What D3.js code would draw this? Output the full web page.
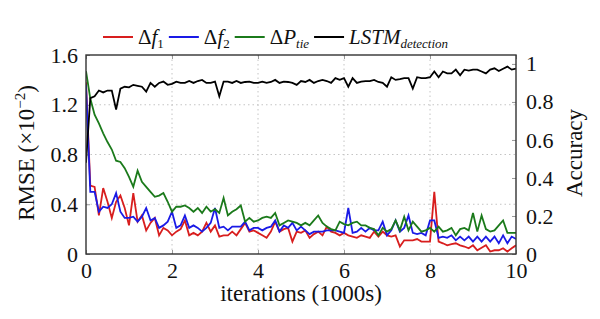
<!DOCTYPE html>
<html>
<head>
<meta charset="utf-8">
<script src="https://cdn.jsdelivr.net/npm/d3@7"></script>
<style>
  body { margin: 0; background: #fff; }
</style>
</head>
<body>
<svg id="chart" width="600" height="319"></svg>
<script>
// iterations in thousands, sampled every 100
const iterations = d3.range(0, 101).map(i => i / 10);

const rmseF1 = [1.38, 0.55, 0.54, 0.31, 0.53, 0.42, 0.29, 0.42, 0.47, 0.37,
  0.23, 0.49, 0.26, 0.31, 0.19, 0.25, 0.29, 0.15, 0.21, 0.19,
  0.15, 0.18, 0.20, 0.27, 0.15, 0.17, 0.15, 0.18, 0.25, 0.18,
  0.23, 0.14, 0.15, 0.15, 0.18, 0.15, 0.20, 0.25, 0.18, 0.19,
  0.17, 0.15, 0.13, 0.18, 0.26, 0.18, 0.20, 0.21, 0.10, 0.18,
  0.17, 0.19, 0.13, 0.16, 0.18, 0.15, 0.22, 0.18, 0.17, 0.15,
  0.17, 0.15, 0.14, 0.13, 0.15, 0.14, 0.13, 0.18, 0.14, 0.18,
  0.15, 0.14, 0.15, 0.06, 0.11, 0.11, 0.11, 0.12, 0.10, 0.10,
  0.10, 0.50, 0.10, 0.086, 0.07, 0.08, 0.086, 0.07, 0.06, 0.046,
  0.07, 0.03, 0.05, 0.07, 0.02, 0.03, 0.03, 0.046, 0.02, 0.046,
  0.07];

const rmseF2 = [1.36, 0.50, 0.50, 0.34, 0.38, 0.37, 0.40, 0.49, 0.34, 0.29,
  0.29, 0.30, 0.26, 0.30, 0.37, 0.27, 0.29, 0.21, 0.23, 0.26,
  0.34, 0.21, 0.23, 0.31, 0.21, 0.23, 0.21, 0.18, 0.21, 0.25,
  0.37, 0.21, 0.22, 0.19, 0.22, 0.22, 0.22, 0.26, 0.19, 0.21,
  0.21, 0.19, 0.21, 0.22, 0.27, 0.18, 0.23, 0.21, 0.25, 0.19,
  0.22, 0.19, 0.16, 0.18, 0.18, 0.18, 0.19, 0.19, 0.19, 0.18,
  0.17, 0.37, 0.17, 0.18, 0.21, 0.18, 0.21, 0.19, 0.19, 0.26,
  0.15, 0.19, 0.27, 0.18, 0.21, 0.31, 0.17, 0.16, 0.17, 0.15,
  0.27, 0.27, 0.13, 0.14, 0.13, 0.15, 0.11, 0.14, 0.11, 0.14,
  0.10, 0.14, 0.10, 0.14, 0.10, 0.14, 0.086, 0.15, 0.086, 0.14,
  0.12];

const rmsePtie = [1.47, 1.25, 1.12, 1.05, 0.97, 0.90, 0.84, 0.75, 0.74, 0.69,
  0.62, 0.54, 0.67, 0.58, 0.54, 0.50, 0.46, 0.47, 0.49, 0.42,
  0.34, 0.38, 0.38, 0.39, 0.37, 0.34, 0.37, 0.33, 0.38, 0.34,
  0.36, 0.33, 0.45, 0.31, 0.34, 0.36, 0.39, 0.26, 0.29, 0.26,
  0.27, 0.29, 0.30, 0.29, 0.33, 0.23, 0.25, 0.27, 0.26, 0.25,
  0.23, 0.25, 0.23, 0.27, 0.31, 0.25, 0.22, 0.20, 0.19, 0.26,
  0.24, 0.23, 0.25, 0.26, 0.23, 0.23, 0.21, 0.20, 0.15, 0.21,
  0.18, 0.20, 0.27, 0.19, 0.30, 0.19, 0.26, 0.22, 0.18, 0.19,
  0.21, 0.18, 0.22, 0.18, 0.19, 0.21, 0.15, 0.20, 0.21, 0.19,
  0.33, 0.18, 0.31, 0.20, 0.18, 0.19, 0.23, 0.27, 0.17, 0.17,
  0.17];

const accuracy = [0.48, 0.82, 0.83, 0.86, 0.85, 0.86, 0.86, 0.76, 0.87, 0.88,
  0.877, 0.89, 0.885, 0.88, 0.854, 0.90, 0.88, 0.90, 0.907, 0.89,
  0.895, 0.907, 0.90, 0.90, 0.91, 0.90, 0.91, 0.916, 0.90, 0.90,
  0.907, 0.83, 0.907, 0.907, 0.90, 0.91, 0.90, 0.905, 0.907, 0.90,
  0.90, 0.907, 0.90, 0.905, 0.916, 0.90, 0.907, 0.905, 0.90, 0.89,
  0.91, 0.905, 0.916, 0.90, 0.91, 0.916, 0.91, 0.90, 0.925, 0.916,
  0.925, 0.88, 0.925, 0.90, 0.907, 0.91, 0.91, 0.916, 0.905, 0.90,
  0.88, 0.93, 0.916, 0.92, 0.925, 0.925, 0.87, 0.93, 0.925, 0.925,
  0.93, 0.96, 0.93, 0.96, 0.95, 0.95, 0.97, 0.94, 0.97, 0.965,
  0.97, 0.97, 0.96, 0.95, 0.97, 0.977, 0.963, 0.975, 0.986, 0.97,
  0.975];

const xTicks = [0, 2, 4, 6, 8, 10];
const leftTicks = [0, 0.4, 0.8, 1.2, 1.6];
const rightTicks = [0, 0.2, 0.4, 0.6, 0.8, 1];

const series = [
  { key: "f1", values: rmseF1, color: "#d81e1e", axis: "left" },
  { key: "f2", values: rmseF2, color: "#1a1ae6", axis: "left" },
  { key: "ptie", values: rmsePtie, color: "#1b7a1b", axis: "left" },
  { key: "lstm", values: accuracy, color: "#000000", axis: "right" }
];

const FONT = "'Liberation Serif', 'Times New Roman', serif";
const svg = d3.select("#chart");
const m = { left: 86, right: 516, top: 55, bottom: 254 };

const x = d3.scaleLinear().domain([0, 10]).range([m.left, m.right]);
const yL = d3.scaleLinear().domain([0, 1.6]).range([m.bottom, m.top]);
const yR = d3.scaleLinear().domain([0, 1.047]).range([m.bottom, m.top]);

// dotted grid
const grid = svg.append("g").attr("stroke", "#c4c4c4").attr("stroke-dasharray", "1.5,3").attr("stroke-width", 1);
grid.selectAll("line.gx").data(xTicks.slice(1, -1)).join("line")
  .attr("x1", d => x(d)).attr("x2", d => x(d)).attr("y1", m.top).attr("y2", m.bottom);
grid.selectAll("line.gy").data(leftTicks.slice(1, -1)).join("line")
  .attr("x1", m.left).attr("x2", m.right).attr("y1", d => yL(d)).attr("y2", d => yL(d));

// axes, ticks pointing inward
const fmt = d => String(d);
const axB = svg.append("g").attr("transform", `translate(0,${m.bottom})`)
  .call(d3.axisBottom(x).tickValues(xTicks).tickSizeInner(-4).tickSizeOuter(0).tickPadding(10).tickFormat(fmt));
const axT = svg.append("g").attr("transform", `translate(0,${m.top})`)
  .call(d3.axisTop(x).tickValues(xTicks).tickSizeInner(-4).tickSizeOuter(0).tickFormat(""));
const axL = svg.append("g").attr("transform", `translate(${m.left},0)`)
  .call(d3.axisLeft(yL).tickValues(leftTicks).tickSizeInner(-4).tickSizeOuter(0).tickPadding(8).tickFormat(fmt));
const axR = svg.append("g").attr("transform", `translate(${m.right},0)`)
  .call(d3.axisRight(yR).tickValues(rightTicks).tickSizeInner(-4).tickSizeOuter(0).tickPadding(10).tickFormat(fmt));

[axB, axT, axL, axR].forEach(a => {
  a.select(".domain").remove();
  a.selectAll(".tick line").attr("stroke", "#999");
  a.selectAll("text").attr("font-size", 22).attr("fill", "#111");
});
axB.selectAll("text").attr("dy", "0.62em");

// series lines
svg.append("clipPath").attr("id", "clip").append("rect")
  .attr("x", m.left).attr("y", m.top - 2).attr("width", m.right - m.left).attr("height", m.bottom - m.top + 2);
const lines = svg.append("g").attr("clip-path", "url(#clip)");
series.forEach(s => {
  const yy = s.axis === "left" ? yL : yR;
  lines.append("path")
    .datum(s.values)
    .attr("fill", "none")
    .attr("stroke", s.color)
    .attr("stroke-width", 1.8)
    .attr("d", d3.line().x((d, i) => x(iterations[i])).y(d => yy(d)));
});

// frame
svg.append("rect").attr("x", m.left).attr("y", m.top)
  .attr("width", m.right - m.left).attr("height", m.bottom - m.top)
  .attr("fill", "none").attr("stroke", "#333").attr("stroke-width", 1.4);

// axis titles
svg.append("text").attr("x", (m.left + m.right) / 2).attr("y", 301)
  .attr("text-anchor", "middle").attr("font-size", 23).attr("fill", "#111")
  .text("iterations (1000s)");

const lt = svg.append("text").attr("transform", "translate(34,153) rotate(-90)")
  .attr("text-anchor", "middle").attr("font-size", 23).attr("fill", "#111");
lt.append("tspan").text("RMSE (×10");
lt.append("tspan").attr("font-size", 15).attr("dy", -9).text("−2");
lt.append("tspan").attr("dy", 9).text(")");

svg.append("text").attr("transform", "translate(582,153) rotate(-90)")
  .attr("text-anchor", "middle").attr("font-size", 23).attr("fill", "#111")
  .text("Accuracy");

// legend
const legendParts = [
  { color: "#d81e1e", main: [["Δ", false], ["f", true]], sub: ["1", false] },
  { color: "#1a1ae6", main: [["Δ", false], ["f", true]], sub: ["2", false] },
  { color: "#1b7a1b", main: [["Δ", false], ["P", true]], sub: ["tie", true] },
  { color: "#000000", main: [["LSTM", true]], sub: ["detection", true] }
];
const lg = svg.append("g");
let lx = 103;
const ly = 37;
legendParts.forEach(p => {
  lg.append("line").attr("x1", lx).attr("x2", lx + 30).attr("y1", ly).attr("y2", ly)
    .attr("stroke", p.color).attr("stroke-width", 2);
  const t = lg.append("text").attr("x", lx + 35).attr("y", ly + 7).attr("font-size", 21).attr("fill", "#111")
    .style("font-family", FONT);
  p.main.forEach(([s, it]) => t.append("tspan").attr("font-style", it ? "italic" : "normal").text(s));
  t.append("tspan").attr("font-size", 13).attr("dy", 4)
    .attr("font-style", p.sub[1] ? "italic" : "normal").text(p.sub[0]);
  lx = lx + 35 + t.node().getComputedTextLength() + 5;
});

svg.selectAll("text").style("font-family", FONT);
</script>
</body>
</html>
